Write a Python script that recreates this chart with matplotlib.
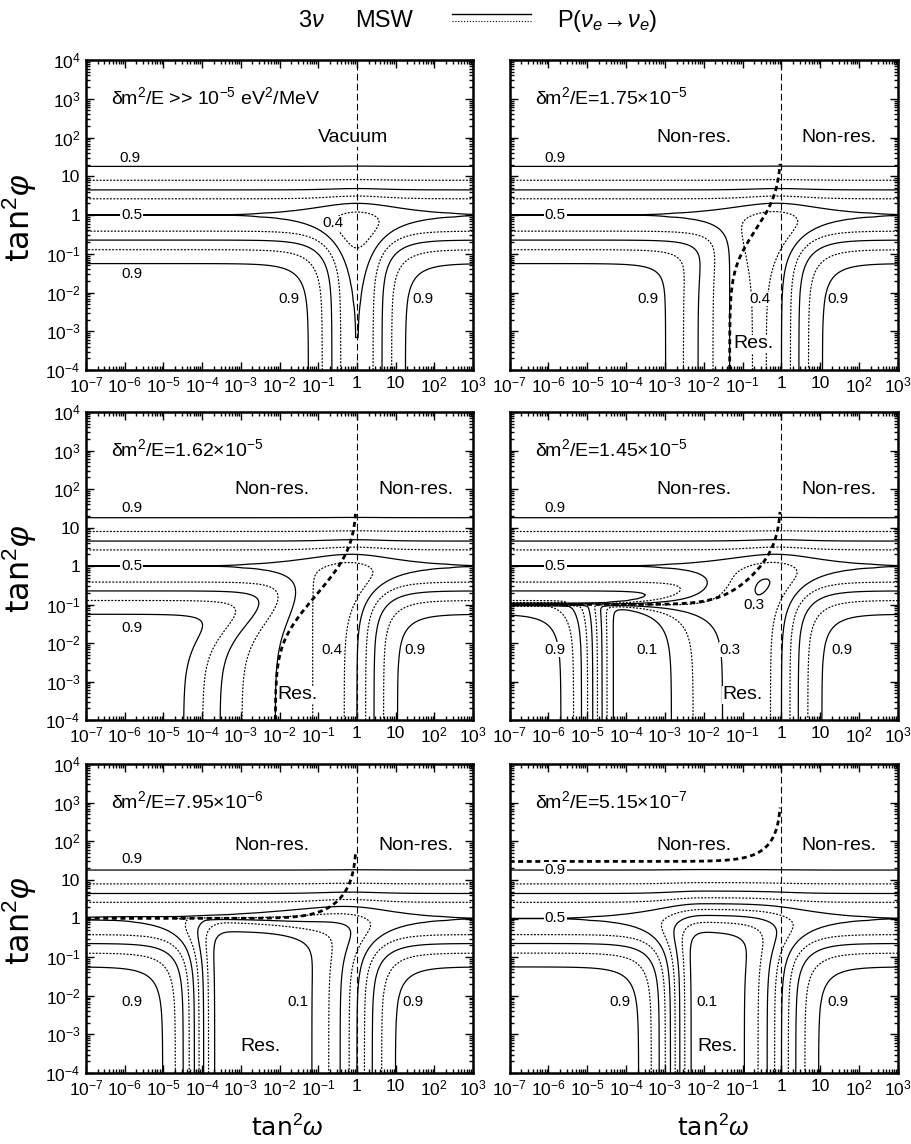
import numpy as np
import matplotlib
matplotlib.use("Agg")
import matplotlib.pyplot as plt
from matplotlib.lines import Line2D
from matplotlib.ticker import FixedLocator, FixedFormatter, LogLocator, NullFormatter

plt.rcParams["font.family"] = ["Liberation Sans", "DejaVu Sans"]
plt.rcParams["mathtext.fontset"] = "custom"
plt.rcParams["mathtext.rm"] = "Liberation Sans"
plt.rcParams["mathtext.it"] = "Liberation Sans:italic"
plt.rcParams["mathtext.bf"] = "Liberation Sans:bold"

# ---- data ------------------------------------------------------------
# delta m^2 / E of each panel (eV^2/MeV); None = vacuum limit
dm2_over_E = [None, 1.75e-5, 1.62e-5, 1.45e-5, 7.95e-6, 5.15e-7]
panel_titles = [
    "δm$^2$/E >> 10$^{-5}$ eV$^2$/MeV",
    "δm$^2$/E=1.75$\\times$10$^{-5}$",
    "δm$^2$/E=1.62$\\times$10$^{-5}$",
    "δm$^2$/E=1.45$\\times$10$^{-5}$",
    "δm$^2$/E=7.95$\\times$10$^{-6}$",
    "δm$^2$/E=5.15$\\times$10$^{-7}$",
]
# dm2/E for which the resonance sits at the production point
dm2_core = 1.595e-5
# Landau-Zener adiabaticity, read off the spacing of the non-adiabatic contours
lz_gamma = [None, 6.0e4, 6.0e4, 5.0e4, 1.1e4, 5.0e2]
# end of the plotted resonance curve, in tan^2(omega)
res_curve_end = 0.92

solid_levels = [0.1, 0.3, 0.5, 0.7, 0.9]
dotted_levels = [0.2, 0.4, 0.6, 0.8]

x_ticks = [1e-7, 1e-6, 1e-5, 1e-4, 1e-3, 1e-2, 1e-1, 1, 10, 1e2, 1e3]
x_ticklabels = ["$10^{-7}$", "$10^{-6}$", "$10^{-5}$", "$10^{-4}$", "$10^{-3}$",
                "$10^{-2}$", "$10^{-1}$", "1", "10", "$10^{2}$", "$10^{3}$"]
y_ticks = [1e-4, 1e-3, 1e-2, 1e-1, 1, 10, 1e2, 1e3, 1e4]
y_ticklabels = ["$10^{-4}$", "$10^{-3}$", "$10^{-2}$", "$10^{-1}$", "1", "10",
                "$10^{2}$", "$10^{3}$", "$10^{4}$"]


def survival(t, T, dm2E, gamma):
    """3-flavour P(nu_e -> nu_e), t = tan^2 omega, T = tan^2 phi."""
    c2 = 1.0 / (1.0 + T)
    s2 = T / (1.0 + T)
    cos2w = (1 - t) / (1 + t)
    sin2w = 2 * np.sqrt(t) / (1 + t)
    x = 0.0 if dm2E is None else dm2_core / dm2E * c2
    d = cos2w - x
    cos2wm = d / np.sqrt(d ** 2 + sin2w ** 2)
    if gamma is None:
        pc = 0.0
    else:
        pc = np.where(d < 0, np.exp(-gamma * t / (1 + t)), 0.0)
    p2 = 0.5 + (0.5 - pc) * cos2wm * cos2w
    return c2 ** 2 * p2 + s2 ** 2


def resonance_curve(dm2E):
    r = dm2_core / dm2E
    if r < 1:
        T = np.geomspace(1e-4, r * (1 + res_curve_end) / (1 - res_curve_end) - 1, 400)
        x = r / (1 + T)
        t = (1 - x) / (1 + x)
    else:
        t = np.geomspace(1e-7, res_curve_end, 400)
        T = r * (1 + t) / (1 - t) - 1
    return t, T


lx = np.linspace(-7, 3, 156)
ly = np.linspace(-4, 4, 161)
tt, TT = np.meshgrid(10 ** lx, 10 ** ly)

# text notes per panel: (x, y, text, inline-on-line)
notes = [
    [(0.78, 98, "Vacuum", False), (1.4e-6, 30, "0.9", False), (1.5e-6, 1, "0.5", True),
     (0.24, 0.62, "0.4", False), (1.5e-6, 0.03, "0.9", False),
     (0.018, 7e-3, "0.9", False), (52, 7e-3, "0.9", False)],
    [(5.6e-3, 100, "Non-res.", False), (30, 100, "Non-res.", False),
     (1.5e-6, 30, "0.9", False), (1.5e-6, 1, "0.5", True), (3.6e-4, 6.8e-3, "0.9", False),
     (0.28, 6.8e-3, "0.4", False), (28, 6.8e-3, "0.9", False), (0.19, 4.7e-4, "Res.", False)],
    [(6.3e-3, 100, "Non-res.", False), (34, 100, "Non-res.", False),
     (1.5e-6, 32, "0.9", False), (1.5e-6, 1, "0.5", True), (1.5e-6, 0.025, "0.9", False),
     (0.23, 6.6e-3, "0.4", False), (32, 6.6e-3, "0.9", False), (0.03, 4.5e-4, "Res.", False)],
    [(5.6e-3, 100, "Non-res.", False), (30, 100, "Non-res.", False),
     (1.5e-6, 32, "0.9", False), (1.5e-6, 1, "0.5", True), (0.2, 0.098, "0.3", False),
     (1.5e-6, 6.6e-3, "0.9", False), (3.5e-4, 6.6e-3, "0.1", False),
     (0.048, 6.6e-3, "0.3", False), (36, 6.6e-3, "0.9", False), (0.1, 4.5e-4, "Res.", False)],
    [(6.3e-3, 76, "Non-res.", False), (34, 76, "Non-res.", False),
     (1.5e-6, 35, "0.9", False), (1.5e-6, 7e-3, "0.9", False), (0.03, 7e-3, "0.1", False),
     (28, 7e-3, "0.9", False), (3.2e-3, 5e-4, "Res.", False)],
    [(5.6e-3, 76, "Non-res.", False), (30, 76, "Non-res.", False),
     (1.5e-6, 18, "0.9", True), (1.5e-6, 1, "0.5", True), (6.9e-5, 7e-3, "0.9", False),
     (0.012, 7e-3, "0.1", False), (28, 7e-3, "0.9", False), (0.023, 5e-4, "Res.", False)],
]

W, H = 911, 1144
fig = plt.figure(figsize=(W / 100, H / 100), dpi=100)

col_left = [86, 509.5]
col_width = [387, 388.5]
row_top = [60, 412, 764]
row_height = [310, 308, 309]

for k in range(6):
    row, col = divmod(k, 2)
    ax = fig.add_axes([col_left[col] / W, 1 - (row_top[row] + row_height[row]) / H,
                       col_width[col] / W, row_height[row] / H])
    P = survival(tt, TT, dm2_over_E[k], lz_gamma[k])
    ax.contour(tt, TT, P, levels=solid_levels, colors="k", linewidths=0.9,
               linestyles="solid")
    ax.contour(tt, TT, P, levels=dotted_levels, colors="k", linewidths=0.85,
               linestyles=[(0, (1.6, 1.3))] * len(dotted_levels))
    ax.axvline(1, color="k", lw=0.8, ls=(0, (6, 3)), zorder=3)
    if dm2_over_E[k] is not None:
        rt, rT = resonance_curve(dm2_over_E[k])
        ax.plot(rt, rT, color="k", lw=2.0, ls=(0, (1.8, 1.3)), zorder=4)

    ax.set_xscale("log")
    ax.set_yscale("log")
    ax.set_xlim(1e-7, 1e3)
    ax.set_ylim(1e-4, 1e4)
    ax.xaxis.set_major_locator(FixedLocator(x_ticks))
    ax.xaxis.set_major_formatter(FixedFormatter(x_ticklabels))
    ax.yaxis.set_major_locator(FixedLocator(y_ticks))
    ax.yaxis.set_major_formatter(FixedFormatter(y_ticklabels))
    for axis in (ax.xaxis, ax.yaxis):
        axis.set_minor_locator(LogLocator(10, subs=np.arange(2, 10), numticks=100))
        axis.set_minor_formatter(NullFormatter())
    ax.tick_params(which="both", direction="in", top=True, right=True, width=1.0)
    ax.tick_params(which="major", length=6, labelsize=12.5, pad=4)
    ax.tick_params(which="minor", length=3)
    if col == 1:
        ax.tick_params(labelleft=False)
    for s in ax.spines.values():
        s.set_linewidth(1.8)

    ax.text(4.5e-7, 1.1e3, panel_titles[k], fontsize=14, ha="left", va="center")
    for (x, y, s, inline) in notes[k]:
        size = 14 if s in ("Non-res.", "Vacuum", "Res.") else 11
        ax.text(x, y, s, fontsize=size, ha="center", va="center", zorder=6,
                bbox=dict(fc="white", ec="none", pad=0.6 if inline else 0.3))

# y labels
for row in range(3):
    yc = row_top[row] + row_height[row] / 2 + 3
    fig.text(20 / W, 1 - yc / H, "tan$^2\\varphi$", rotation=90, fontsize=23,
             ha="center", va="center", family="DejaVu Sans")
# x labels
for xc in (287, 713):
    fig.text(xc / W, 1 - 1141 / H, "tan$^2\\omega$", fontsize=18, ha="center",
             va="bottom", family="DejaVu Sans")

# heading
fig.text(298 / W, 1 - 27 / H, "3$\\nu$", fontsize=17, va="baseline")
fig.text(355 / W, 1 - 27 / H, "MSW", fontsize=17, va="baseline")
fig.add_artist(Line2D([452 / W, 531 / W], [1 - 14 / H] * 2, transform=fig.transFigure,
                      color="k", lw=1.0))
fig.add_artist(Line2D([452 / W, 531 / W], [1 - 21 / H] * 2, transform=fig.transFigure,
                      color="k", lw=0.8, ls=(0, (1.0, 1.6))))
fig.text(557 / W, 1 - 27 / H, "P$(\\nu_e\\!\\rightarrow\\!\\nu_e)$", fontsize=17,
         va="baseline")

fig.savefig("out.png", dpi=100)
